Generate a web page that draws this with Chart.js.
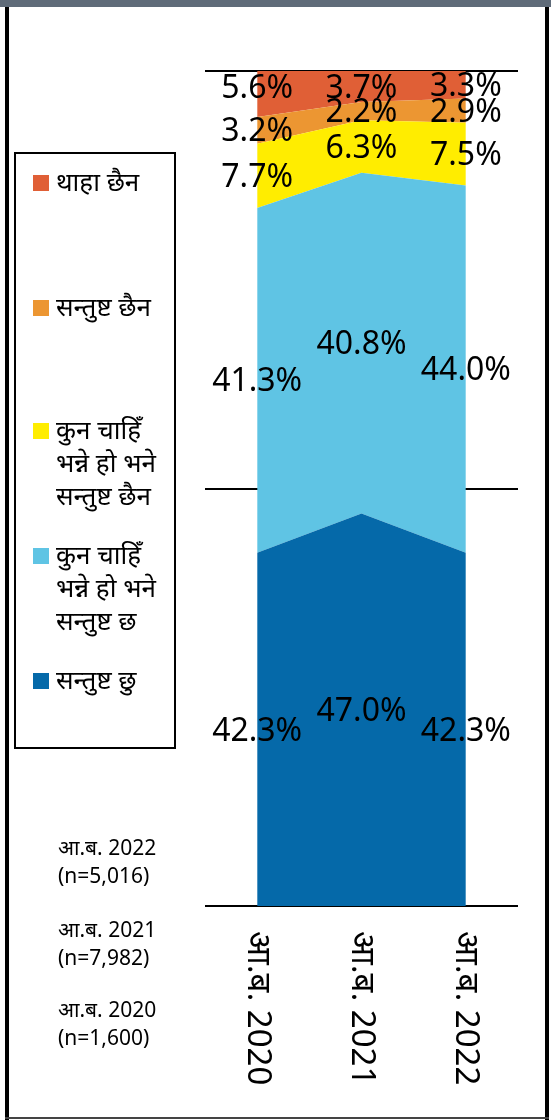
<!DOCTYPE html>
<html>
<head>
<meta charset="utf-8">
<script src="https://cdn.jsdelivr.net/npm/chart.js@4.4.1/dist/chart.umd.min.js"></script>
<style>
  html, body { margin: 0; padding: 0; background: #fff; }
  body { width: 551px; height: 1120px; position: relative; overflow: hidden;
         font-family: "Noto Sans", "Noto Sans Devanagari", sans-serif; color: #000; }
  #topbar { position: absolute; left: 0; top: 0; width: 551px; height: 7px; background: #5f6b79; }
  .frame { position: absolute; background: #000; }
  #chart { position: absolute; left: 0; top: 0; }
  #legend { position: absolute; left: 14px; top: 152px; width: 158px; height: 593px; border: 2px solid #000; }
  .swatch { position: absolute; left: 17px; width: 16px; height: 16px; }
  .label { position: absolute; left: 40px; font-size: 26px; line-height: 33px; white-space: nowrap; }
  .note { position: absolute; left: 58px; font-size: 21px; line-height: 28px; white-space: nowrap; }
</style>
</head>
<body>
<div id="topbar"></div>
<div class="frame" style="left:5px;top:7px;width:4px;height:1113px"></div>
<div class="frame" style="left:545px;top:7px;width:4px;height:1113px"></div>
<div class="frame" style="left:5px;top:1117px;width:544px;height:2px;background:#444"></div>
<canvas id="chart" width="551" height="1120"></canvas>
<div id="legend"></div>
<div id="notes"></div>
<script>
const categories = ['आ.ब. 2020', 'आ.ब. 2021', 'आ.ब. 2022'];

// bottom to top
const seriesNames = [
  ['सन्तुष्ट छु'],
  ['कुन चाहिँ', 'भन्ने हो भने', 'सन्तुष्ट छ'],
  ['कुन चाहिँ', 'भन्ने हो भने', 'सन्तुष्ट छैन'],
  ['सन्तुष्ट छैन'],
  ['थाहा छैन']
];
const satisfied = [42.3, 47.0, 42.3];
const somewhatSatisfied = [41.3, 40.8, 44.0];
const somewhatDissatisfied = [7.7, 6.3, 7.5];
const dissatisfied = [3.2, 2.2, 2.9];
const dontKnow = [5.6, 3.7, 3.3];

const sampleYears = ['आ.ब. 2022', 'आ.ब. 2021', 'आ.ब. 2020'];
const sampleSizes = ['(n=5,016)', '(n=7,982)', '(n=1,600)'];

const yTicks = [0, 50, 100];

const colors = ['#0569a9', '#5fc4e4', '#ffed00', '#ec9632', '#e05f36'];
const series = [satisfied, somewhatSatisfied, somewhatDissatisfied, dissatisfied, dontKnow];

// vertical centre of each legend item (first line), top to bottom
const legendY = [183, 308, 431, 556, 681];

const valueLabels = {
  id: 'valueLabels',
  afterDatasetsDraw(chart) {
    const ctx = chart.ctx;
    const ys = chart.scales.y;
    const area = chart.chartArea;
    ctx.save();
    ctx.font = '32px "Noto Sans", sans-serif';
    ctx.fillStyle = '#000';
    ctx.textAlign = 'center';
    ctx.textBaseline = 'middle';
    chart.data.datasets.forEach((ds, d) => {
      const meta = chart.getDatasetMeta(d);
      meta.data.forEach((pt, j) => {
        const top = Math.max(pt.y, area.top);
        const bottom = d === 0 ? ys.getPixelForValue(0) : chart.getDatasetMeta(d - 1).data[j].y;
        let cy = (top + bottom) / 2 + 2;
        if (d === chart.data.datasets.length - 1) cy = Math.min(cy, area.top + 18);
        ctx.fillText(ds.data[j].toFixed(1) + '%', pt.x, cy);
      });
    });
    ctx.restore();
  }
};

const verticalTicks = {
  id: 'verticalTicks',
  afterDraw(chart) {
    const ctx = chart.ctx;
    const xs = chart.scales.x;
    ctx.save();
    ctx.font = '33px "Noto Sans", sans-serif';
    ctx.fillStyle = '#000';
    ctx.textAlign = 'left';
    ctx.textBaseline = 'middle';
    chart.data.labels.forEach((lab, i) => {
      ctx.save();
      ctx.translate(xs.getPixelForValue(i), chart.chartArea.bottom + 25);
      ctx.rotate(Math.PI / 2);
      ctx.fillText(lab, 0, 0);
      ctx.restore();
    });
    ctx.restore();
  }
};

new Chart(document.getElementById('chart'), {
  type: 'line',
  data: {
    labels: categories,
    datasets: series.map((vals, i) => ({
      label: seriesNames[i].join(' '),
      data: vals,
      backgroundColor: colors[i],
      borderWidth: 0,
      pointRadius: 0,
      tension: 0,
      fill: i === 0 ? 'origin' : '-1'
    }))
  },
  options: {
    responsive: false,
    animation: false,
    layout: { padding: { left: 205, right: 33, top: 71, bottom: 214 } },
    plugins: { legend: { display: false }, tooltip: { enabled: false } },
    scales: {
      x: { display: false, offset: true },
      y: {
        stacked: true,
        min: 0,
        max: 100,
        afterBuildTicks: (scale) => { scale.ticks = yTicks.map(v => ({ value: v })); },
        ticks: { display: false },
        border: { display: false },
        grid: { color: '#000', lineWidth: 2, drawTicks: false }
      }
    }
  },
  plugins: [valueLabels, verticalTicks]
});

// legend
const legend = document.getElementById('legend');
for (let i = series.length - 1; i >= 0; i--) {
  const k = series.length - 1 - i;
  const cy = legendY[k] - 154;
  const sw = document.createElement('div');
  sw.className = 'swatch';
  sw.style.top = (cy - 8) + 'px';
  sw.style.background = colors[i];
  legend.appendChild(sw);
  const lab = document.createElement('div');
  lab.className = 'label';
  lab.style.top = (cy - 18) + 'px';
  lab.innerHTML = seriesNames[i].join('<br>');
  legend.appendChild(lab);
}

// sample notes
const notes = document.getElementById('notes');
const noteY = [848, 930, 1010];
sampleYears.forEach((yr, i) => {
  const n = document.createElement('div');
  n.className = 'note';
  n.style.top = (noteY[i] - 15) + 'px';
  n.innerHTML = yr + '<br>' + sampleSizes[i];
  notes.appendChild(n);
});
</script>
</body>
</html>
